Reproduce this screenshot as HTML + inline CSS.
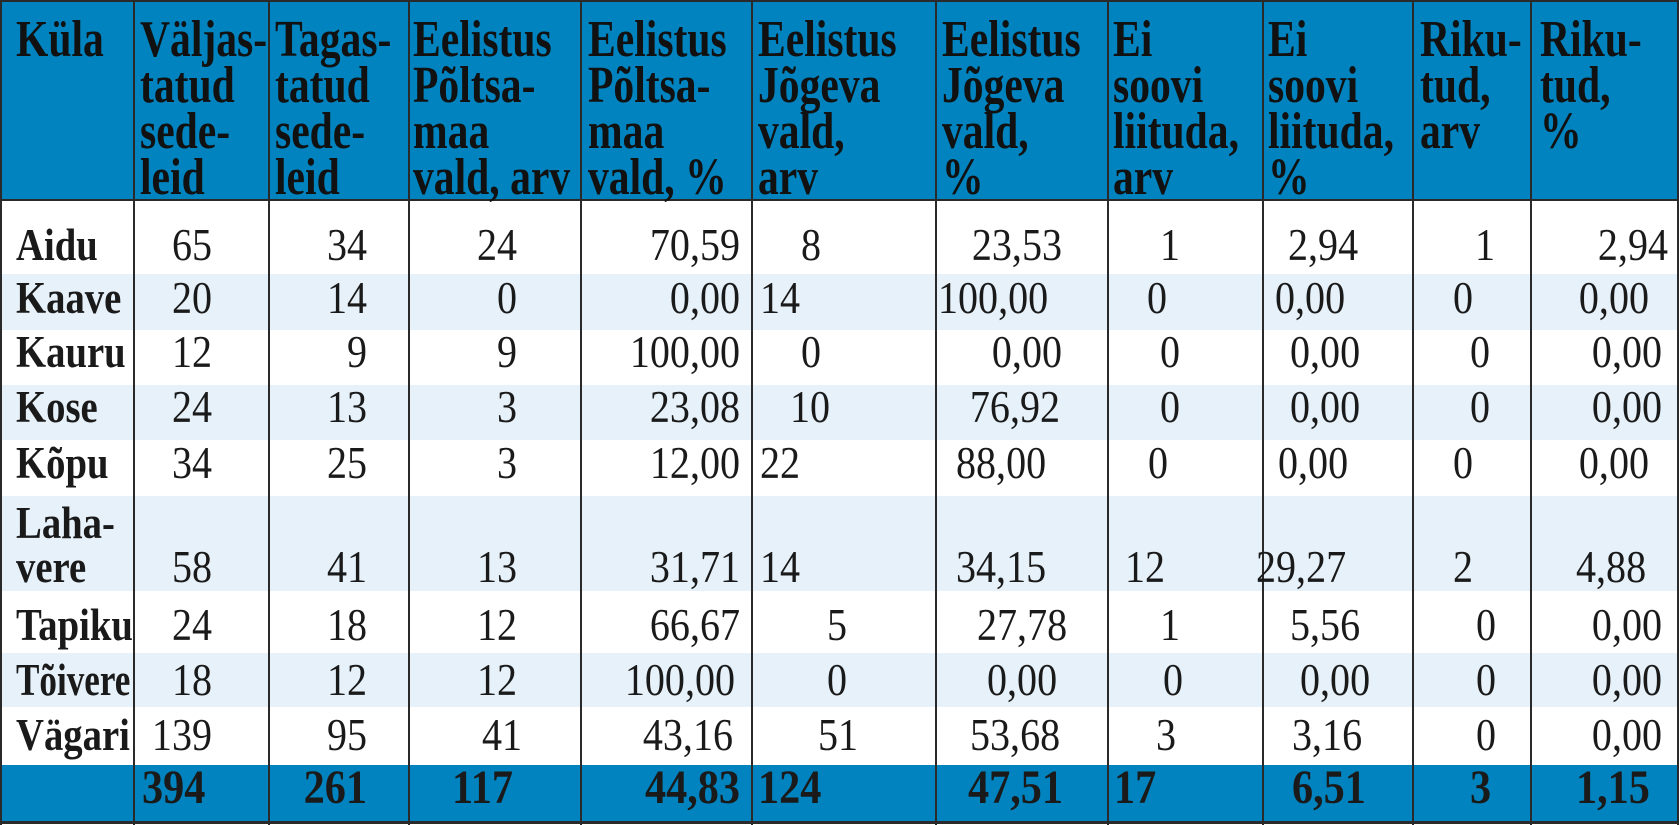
<!DOCTYPE html>
<html><head><meta charset="utf-8"><style>
body{margin:0;width:1679px;height:825px;overflow:hidden;background:#fff;position:relative;font-family:"Liberation Serif",serif;color:#1a1a1a}
div{position:absolute}
.b{background:#e6f1f9;left:0;width:1679px}
.v{top:0;height:825px;width:2px;background:#2a2a2a}
.h{font-weight:bold;font-size:52px;line-height:46px;top:17px;transform:scaleX(.8);transform-origin:0 0;white-space:nowrap;color:#111}
.t{font-size:45px;line-height:44px;margin-top:-2px;white-space:nowrap;transform:scaleX(.89);transform-origin:0 0}
.r{text-align:right;transform-origin:100% 0}
.l{font-weight:bold;left:16px;transform:scaleX(.86)}
.tot{font-weight:bold;font-size:48px;transform:scaleX(.88)}
</style></head><body>
<div style="left:0;top:0;width:1679px;height:200px;background:#0083be"></div>
<div class="b" style="top:274px;height:56px"></div>
<div class="b" style="top:385px;height:55px"></div>
<div class="b" style="top:496px;height:95px"></div>
<div class="b" style="top:653px;height:54px"></div>
<div style="left:0;top:765px;width:1679px;height:57px;background:#0083be"></div>
<div style="left:0;top:0;width:1679px;height:2px;background:#2a2a2a"></div>
<div style="left:0;top:199px;width:1679px;height:2px;background:#2a2a2a"></div>
<div style="left:0;top:821px;width:1679px;height:3px;background:#2a2a2a"></div>
<div class="v" style="left:0"></div>
<div class="v" style="left:133px"></div><div class="v" style="left:268px"></div><div class="v" style="left:408px"></div><div class="v" style="left:580px"></div><div class="v" style="left:751px"></div><div class="v" style="left:935px"></div><div class="v" style="left:1107px"></div><div class="v" style="left:1262px"></div><div class="v" style="left:1412px"></div><div class="v" style="left:1530px"></div><div class="v" style="left:1677px"></div>

<div class="h" style="left:16px">Küla</div>
<div class="h" style="left:140px">Väljas-<br>tatud<br>sede-<br>leid</div>
<div class="h" style="left:275px">Tagas-<br>tatud<br>sede-<br>leid</div>
<div class="h" style="left:413px">Eelistus<br>Põltsa-<br>maa<br>vald, arv</div>
<div class="h" style="left:588px">Eelistus<br>Põltsa-<br>maa<br>vald, %</div>
<div class="h" style="left:758px">Eelistus<br>Jõgeva<br>vald,<br>arv</div>
<div class="h" style="left:942px">Eelistus<br>Jõgeva<br>vald,<br>%</div>
<div class="h" style="left:1113px">Ei<br>soovi<br>liituda,<br>arv</div>
<div class="h" style="left:1268px">Ei<br>soovi<br>liituda,<br>%</div>
<div class="h" style="left:1420px">Riku-<br>tud,<br>arv</div>
<div class="h" style="left:1540px">Riku-<br>tud,<br>%</div>

<div class="t l" style="top:225px">Aidu</div>
<div class="t l" style="top:278px">Kaave</div>
<div class="t l" style="top:332px">Kauru</div>
<div class="t l" style="top:387px">Kose</div>
<div class="t l" style="top:443px">Kõpu</div>
<div class="t l" style="top:503px">Laha-</div>
<div class="t l" style="top:547px">vere</div>
<div class="t l" style="top:605px">Tapiku</div>
<div class="t l" style="top:660px;transform:scaleX(.78)">Tõivere</div>
<div class="t l" style="top:715px">Vägari</div>

<div class="t r" style="left:100px;width:112px;top:225px">65</div>
<div class="t r" style="left:100px;width:112px;top:278px">20</div>
<div class="t r" style="left:100px;width:112px;top:332px">12</div>
<div class="t r" style="left:100px;width:112px;top:387px">24</div>
<div class="t r" style="left:100px;width:112px;top:443px">34</div>
<div class="t r" style="left:100px;width:112px;top:547px">58</div>
<div class="t r" style="left:100px;width:112px;top:605px">24</div>
<div class="t r" style="left:100px;width:112px;top:660px">18</div>
<div class="t r" style="left:100px;width:112px;top:715px">139</div>

<div class="t r" style="left:270px;width:97px;top:225px">34</div>
<div class="t r" style="left:270px;width:97px;top:278px">14</div>
<div class="t r" style="left:270px;width:97px;top:332px">9</div>
<div class="t r" style="left:270px;width:97px;top:387px">13</div>
<div class="t r" style="left:270px;width:97px;top:443px">25</div>
<div class="t r" style="left:270px;width:97px;top:547px">41</div>
<div class="t r" style="left:270px;width:97px;top:605px">18</div>
<div class="t r" style="left:270px;width:97px;top:660px">12</div>
<div class="t r" style="left:270px;width:97px;top:715px">95</div>

<div class="t r" style="left:410px;width:107px;top:225px">24</div>
<div class="t r" style="left:410px;width:107px;top:278px">0</div>
<div class="t r" style="left:410px;width:107px;top:332px">9</div>
<div class="t r" style="left:410px;width:107px;top:387px">3</div>
<div class="t r" style="left:410px;width:107px;top:443px">3</div>
<div class="t r" style="left:410px;width:107px;top:547px">13</div>
<div class="t r" style="left:410px;width:107px;top:605px">12</div>
<div class="t r" style="left:410px;width:107px;top:660px">12</div>
<div class="t r" style="left:410px;width:112px;top:715px">41</div>

<div class="t r" style="left:582px;width:158px;top:225px">70,59</div>
<div class="t r" style="left:582px;width:158px;top:278px">0,00</div>
<div class="t r" style="left:582px;width:158px;top:332px">100,00</div>
<div class="t r" style="left:582px;width:158px;top:387px">23,08</div>
<div class="t r" style="left:582px;width:158px;top:443px">12,00</div>
<div class="t r" style="left:582px;width:158px;top:547px">31,71</div>
<div class="t r" style="left:582px;width:158px;top:605px">66,67</div>
<div class="t r" style="left:582px;width:153px;top:660px">100,00</div>
<div class="t r" style="left:582px;width:151px;top:715px">43,16</div>

<div class="t" style="left:801px;top:225px">8</div>
<div class="t" style="left:760px;top:278px">14</div>
<div class="t" style="left:801px;top:332px">0</div>
<div class="t" style="left:790px;top:387px">10</div>
<div class="t" style="left:760px;top:443px">22</div>
<div class="t" style="left:760px;top:547px">14</div>
<div class="t" style="left:827px;top:605px">5</div>
<div class="t" style="left:827px;top:660px">0</div>
<div class="t" style="left:818px;top:715px">51</div>

<div class="t r" style="left:940px;width:122px;top:225px">23,53</div>
<div class="t" style="left:938px;top:278px">100,00</div>
<div class="t r" style="left:940px;width:122px;top:332px">0,00</div>
<div class="t r" style="left:940px;width:120px;top:387px">76,92</div>
<div class="t" style="left:956px;top:443px">88,00</div>
<div class="t" style="left:956px;top:547px">34,15</div>
<div class="t" style="left:977px;top:605px">27,78</div>
<div class="t" style="left:987px;top:660px">0,00</div>
<div class="t" style="left:970px;top:715px">53,68</div>

<div class="t" style="left:1160px;top:225px">1</div>
<div class="t" style="left:1147px;top:278px">0</div>
<div class="t" style="left:1160px;top:332px">0</div>
<div class="t" style="left:1160px;top:387px">0</div>
<div class="t" style="left:1148px;top:443px">0</div>
<div class="t" style="left:1125px;top:547px">12</div>
<div class="t" style="left:1160px;top:605px">1</div>
<div class="t" style="left:1163px;top:660px">0</div>
<div class="t" style="left:1156px;top:715px">3</div>

<div class="t" style="left:1288px;top:225px">2,94</div>
<div class="t" style="left:1275px;top:278px">0,00</div>
<div class="t" style="left:1290px;top:332px">0,00</div>
<div class="t" style="left:1290px;top:387px">0,00</div>
<div class="t" style="left:1278px;top:443px">0,00</div>
<div class="t" style="left:1256px;top:547px">29,27</div>
<div class="t" style="left:1290px;top:605px">5,56</div>
<div class="t" style="left:1300px;top:660px">0,00</div>
<div class="t" style="left:1292px;top:715px">3,16</div>

<div class="t" style="left:1475px;top:225px">1</div>
<div class="t" style="left:1453px;top:278px">0</div>
<div class="t" style="left:1470px;top:332px">0</div>
<div class="t" style="left:1470px;top:387px">0</div>
<div class="t" style="left:1453px;top:443px">0</div>
<div class="t" style="left:1453px;top:547px">2</div>
<div class="t" style="left:1476px;top:605px">0</div>
<div class="t" style="left:1476px;top:660px">0</div>
<div class="t" style="left:1476px;top:715px">0</div>

<div class="t r" style="left:1540px;width:128px;top:225px">2,94</div>
<div class="t r" style="left:1540px;width:109px;top:278px">0,00</div>
<div class="t r" style="left:1540px;width:122px;top:332px">0,00</div>
<div class="t r" style="left:1540px;width:122px;top:387px">0,00</div>
<div class="t r" style="left:1540px;width:109px;top:443px">0,00</div>
<div class="t" style="left:1576px;top:547px">4,88</div>
<div class="t r" style="left:1540px;width:122px;top:605px">0,00</div>
<div class="t r" style="left:1540px;width:122px;top:660px">0,00</div>
<div class="t r" style="left:1540px;width:122px;top:715px">0,00</div>

<div class="t tot" style="left:142px;top:768px">394</div>
<div class="t tot r" style="left:270px;width:97px;top:768px">261</div>
<div class="t tot" style="left:452px;top:768px">117</div>
<div class="t tot r" style="left:582px;width:158px;top:768px">44,83</div>
<div class="t tot" style="left:758px;top:768px">124</div>
<div class="t tot" style="left:968px;top:768px">47,51</div>
<div class="t tot" style="left:1114px;top:768px">17</div>
<div class="t tot" style="left:1292px;top:768px">6,51</div>
<div class="t tot" style="left:1470px;top:768px">3</div>
<div class="t tot" style="left:1576px;top:768px">1,15</div>
</body></html>
